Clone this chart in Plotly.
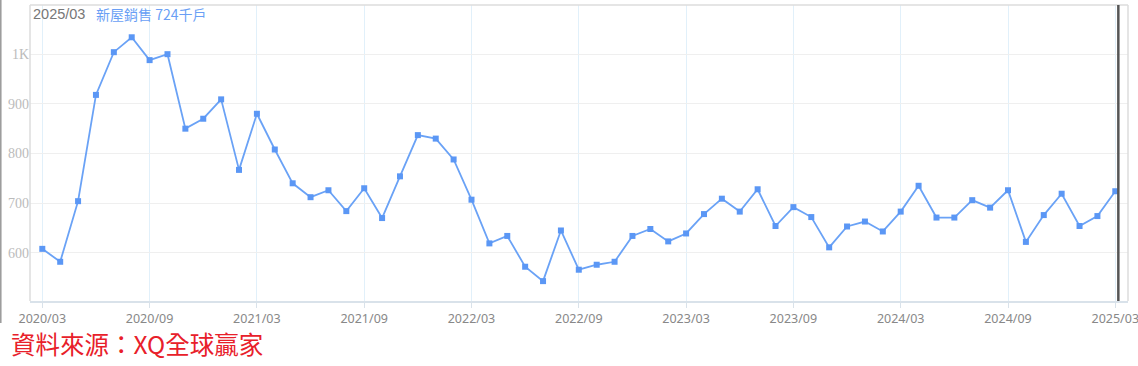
import plotly.graph_objects as go

months = [f"{y}/{m:02d}" for y in range(2020, 2026) for m in range(1, 13)]
months = months[months.index("2020/03"):months.index("2025/03") + 1]

sales = [608, 582, 704, 918, 1004, 1034, 988, 1000, 850, 870, 909, 767, 880, 808,
         740, 712, 726, 684, 730, 670, 754, 837, 830, 788, 707, 619, 634, 572, 543,
         645, 566, 576, 582, 634, 648, 623, 639, 678, 709, 683, 728, 654, 692, 672,
         611, 653, 663, 643, 683, 735, 671, 671, 706, 691, 726, 622, 676, 719, 654,
         674, 724]

x_ticks = ["2020/03", "2020/09", "2021/03", "2021/09", "2022/03", "2022/09",
           "2023/03", "2023/09", "2024/03", "2024/09", "2025/03"]
y_ticks = [600, 700, 800, 900, 1000]
y_tick_text = ["600", "700", "800", "900", "1K"]

xi = list(range(len(months)))
tick_pos = [months.index(t) for t in x_ticks]

W, H = 1138, 366
L, R, T, B = 30, 10, 5, 65
pw, ph = W - L - R, H - T - B

fig = go.Figure()
fig.add_trace(go.Scatter(
    x=xi, y=sales, mode="lines+markers",
    line=dict(color="#6aa2f6", width=1.8),
    marker=dict(symbol="square", size=6, color="#5b97f5"),
    hoverinfo="skip", showlegend=False,
))

fig.update_layout(
    width=W, height=H,
    margin=dict(l=L, r=R, t=T, b=B, autoexpand=False),
    paper_bgcolor="white", plot_bgcolor="white",
    xaxis=dict(
        range=[-0.688, len(months) - 1 + 0.71],
        tickmode="array", tickvals=tick_pos, ticktext=x_ticks,
        showgrid=True, gridcolor="#e1f0fa", gridwidth=1,
        showline=True, linecolor="#d9e2ea", linewidth=1.5,
        ticks="outside", ticklen=5, tickcolor="#d9e2ea",
        tickfont=dict(family="Noto Sans, DejaVu Sans", size=12.5, color="#888888"),
        ticklabeloverflow="allow", automargin=False,
        zeroline=False,
    ),
    yaxis=dict(
        range=[503, 1099],
        tickmode="array", tickvals=y_ticks, ticktext=y_tick_text,
        showgrid=True, gridcolor="#efefef", gridwidth=1,
        showline=False, zeroline=False, ticks="", automargin=False,
        tickfont=dict(family="Liberation Serif, DejaVu Serif", size=14, color="#bbbbbb"),
    ),
)

# plot border
fig.add_shape(type="line", xref="paper", yref="paper", x0=0, x1=1, y0=1, y1=1,
              line=dict(color="#dddddd", width=1.5))
fig.add_shape(type="line", xref="paper", yref="paper", x0=0, x1=0, y0=0, y1=1,
              line=dict(color="#dddddd", width=1.5))
fig.add_shape(type="line", xref="paper", yref="paper", x0=1, x1=1, y0=0, y1=1,
              line=dict(color="#dddddd", width=1.5))

# cursor line at the latest month
fig.add_shape(type="line", xref="x", yref="paper", x0=len(months) - 1 + 0.17,
              x1=len(months) - 1 + 0.17, y0=0, y1=1,
              line=dict(color="#555555", width=2.5))

# left edge artifact line
fig.add_shape(type="line", xref="paper", yref="paper",
              x0=(0.8 - L) / pw, x1=(0.8 - L) / pw,
              y0=1 + T / ph, y1=1 - (323 - T) / ph,
              line=dict(color="#999999", width=1.5))

def py(px):
    return 1 - (px - T) / ph

def pxp(px):
    return (px - L) / pw

fig.add_annotation(text="2025/03", xref="paper", yref="paper",
                   x=pxp(31), y=py(14), xanchor="left", yanchor="middle",
                   showarrow=False,
                   font=dict(family="Liberation Sans, Arial", size=14.5, color="#777777"))
fig.add_annotation(text="新屋銷售 724千戶", xref="paper", yref="paper",
                   x=pxp(94), y=py(14), xanchor="left", yanchor="middle",
                   showarrow=False,
                   font=dict(family="Noto Sans CJK TC", size=14, color="#6a9ff5"))
fig.add_annotation(text="資料來源：XQ全球贏家", xref="paper", yref="paper",
                   x=pxp(9), y=py(343), xanchor="left", yanchor="middle",
                   showarrow=False,
                   font=dict(family="Noto Sans CJK TC", size=24.5, color="#e8202a"))

fig.write_html("out.html")
